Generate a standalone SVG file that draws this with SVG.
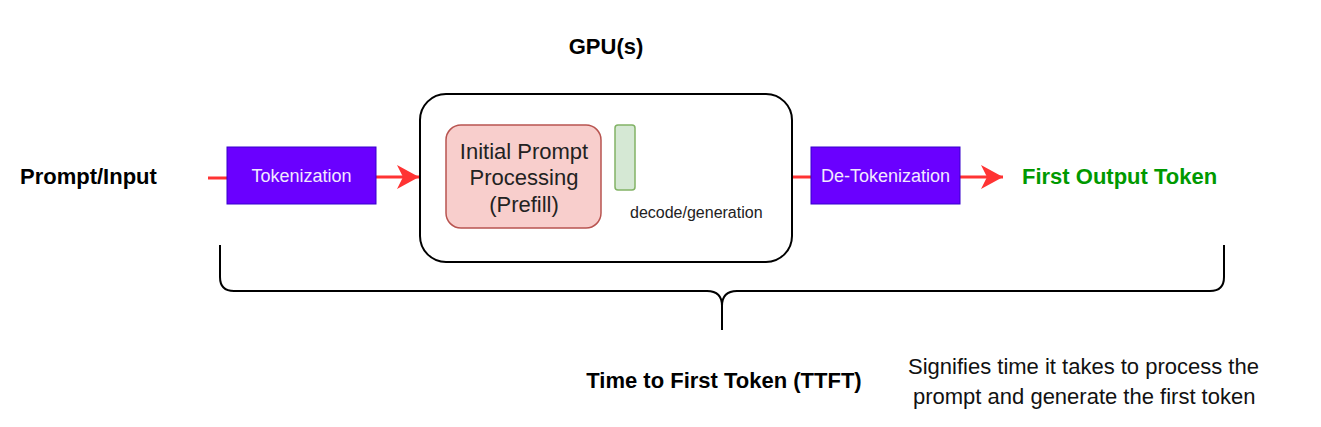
<svg xmlns="http://www.w3.org/2000/svg" width="1321" height="427" viewBox="0 0 1321 427">
<style>
text{font-family:"Liberation Sans",Arial,sans-serif}
.b{font-weight:bold;font-size:22px;fill:#000}
.purple{fill:#6a00ff;stroke:#3700cc;stroke-width:1}
.pl{font-size:18px;fill:#f2e8ff;text-anchor:middle}
.wire{stroke:#ff3333;stroke-width:3;fill:none}
.brace{stroke:#000;stroke-width:2;fill:none}
</style>
<defs>
<marker id="ah" viewBox="0 0 24 26" refX="22" refY="13" markerWidth="24" markerHeight="26" markerUnits="userSpaceOnUse" orient="auto">
<path d="M0,1 L22,13 L0,25 L6,13 Z" fill="#ff3333"/>
</marker>
</defs>
<rect width="1321" height="427" fill="#fff"/>

<g id="connectors">
<line class="wire" x1="208" y1="178" x2="227" y2="178"/>
<line class="wire" x1="376" y1="177" x2="419" y2="177" marker-end="url(#ah)"/>
<line class="wire" x1="792" y1="177" x2="811" y2="177"/>
<line class="wire" x1="960" y1="177" x2="1003" y2="177" marker-end="url(#ah)"/>
</g>

<g id="prompt-input"><text class="b" x="20" y="184">Prompt/Input</text></g>

<g id="tokenization">
<rect class="purple" x="227" y="147" width="149" height="57"/>
<text class="pl" x="301.5" y="182">Tokenization</text>
</g>

<g id="gpu-label"><text class="b" x="606" y="54" text-anchor="middle">GPU(s)</text></g>

<g id="gpu">
<rect x="420" y="94" width="372" height="168" rx="26" ry="26" fill="#fff" stroke="#000" stroke-width="2"/>
</g>

<g id="prefill">
<rect x="446" y="125" width="155" height="103" rx="15" ry="15" fill="#f8cecc" stroke="#b85450" stroke-width="1.5"/>
<text x="524" y="159" font-size="22" text-anchor="middle" fill="#222">Initial Prompt</text>
<text x="524" y="185" font-size="22" text-anchor="middle" fill="#222">Processing</text>
<text x="524" y="212" font-size="22" text-anchor="middle" fill="#222">(Prefill)</text>
</g>

<g id="decode">
<rect x="615" y="125" width="20" height="65" rx="3" ry="3" fill="#d5e8d4" stroke="#82b366" stroke-width="1.5"/>
<text x="630" y="218" font-size="16" fill="#222">decode/generation</text>
</g>

<g id="detokenization">
<rect class="purple" x="811" y="147" width="149" height="57"/>
<text class="pl" x="885.5" y="182">De-Tokenization</text>
</g>

<g id="first-output-token"><text x="1022" y="184" font-size="22" font-weight="bold" fill="#009900">First Output Token</text></g>

<g id="brace">
<path class="brace" d="M220,245 L220,277 Q220,291 234,291 L707,291 Q722,291 722,306 L722,330 M722,306 Q722,291 737,291 L1210,291 Q1224,291 1224,277 L1224,245"/>
</g>

<g id="ttft"><text class="b" x="724" y="388" text-anchor="middle">Time to First Token (TTFT)</text></g>

<g id="description">
<text x="908" y="374" font-size="22" fill="#111">Signifies time it takes to process the</text>
<text x="913" y="404" font-size="22" fill="#111">prompt and generate the first token</text>
</g>
</svg>
